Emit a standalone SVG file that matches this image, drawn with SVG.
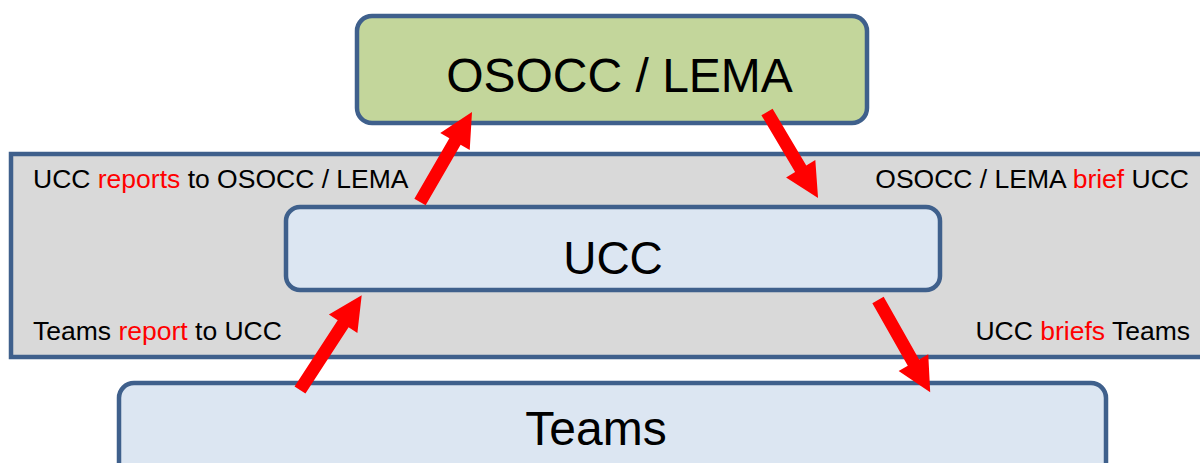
<svg xmlns="http://www.w3.org/2000/svg" width="1200" height="463" viewBox="0 0 1200 463">
<style>
.box{stroke:#3f608c;stroke-width:4.5}
.big{font-family:"Liberation Sans",Arial,sans-serif;font-size:48px;fill:#000;text-anchor:middle}
.lbl{font-family:"Liberation Sans",Arial,sans-serif;font-size:26.5px;fill:#000}
.hl{fill:#ff0000}
.arrow{fill:#ff0000}
</style>
<rect width="1200" height="463" fill="#ffffff"/>
<g id="ucc-zone">
<rect class="box" x="11" y="154" width="1200" height="203" fill="#d9d9d9"/>
<text class="lbl" x="33" y="188">UCC <tspan class="hl">reports</tspan> to OSOCC / LEMA</text>
<text class="lbl" x="33" y="340">Teams <tspan class="hl">report</tspan> to UCC</text>
<text class="lbl" x="1189" y="188" text-anchor="end">OSOCC / LEMA <tspan class="hl">brief</tspan> UCC</text>
<text class="lbl" x="1190" y="340" text-anchor="end">UCC <tspan class="hl">briefs</tspan> Teams</text>
</g>
<g id="osocc">
<rect class="box" x="357" y="16" width="510" height="107" rx="15" fill="#c3d69b"/>
<text class="big" x="619.5" y="92">OSOCC / LEMA</text>
</g>
<g id="ucc">
<rect class="box" x="286" y="207" width="654" height="83" rx="14" fill="#dce6f2"/>
<text class="big" x="613" y="274" style="font-size:46px">UCC</text>
</g>
<g id="teams">
<rect class="box" x="119" y="383" width="987" height="110" rx="15" fill="#dce6f2"/>
<text class="big" x="596" y="445">Teams</text>
</g>
<g id="connectors">
<path class="arrow" transform="translate(420,202) rotate(-60)" d="M0,-6.5 L70,-6.5 L70,-17 L104,0 L70,17 L70,6.5 L0,6.5 Z"/>
<path class="arrow" transform="translate(767,112) rotate(59.3)" d="M0,-6.5 L66,-6.5 L66,-17 L100,0 L66,17 L66,6.5 L0,6.5 Z"/>
<path class="arrow" transform="translate(300,390) rotate(-56.9)" d="M0,-6.5 L79,-6.5 L79,-17 L113,0 L79,17 L79,6.5 L0,6.5 Z"/>
<path class="arrow" transform="translate(878,300) rotate(60.5)" d="M0,-6.5 L72,-6.5 L72,-17 L106,0 L72,17 L72,6.5 L0,6.5 Z"/>
</g>
</svg>
